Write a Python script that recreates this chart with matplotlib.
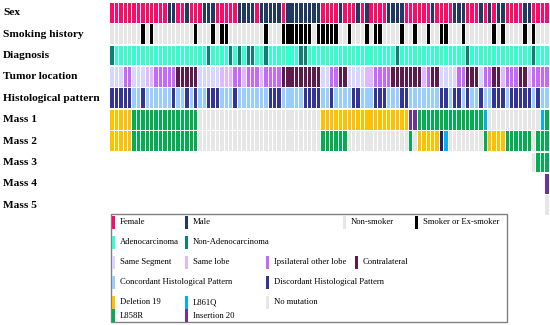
import matplotlib
matplotlib.use('Agg')
import matplotlib.pyplot as plt
from matplotlib.patches import Rectangle
from matplotlib.transforms import blended_transform_factory

# one character per patient (100 columns), '.' = no cell drawn
row_labels = ['Sex', 'Smoking history', 'Diagnosis', 'Tumor location',
              'Histological pattern', 'Mass 1', 'Mass 2', 'Mass 3', 'Mass 4', 'Mass 5']

sex = ("FFFFFFFFFF FFFMMFFMFF FMMMFFFFFM MMMFMMMMMF MMMMMMMMFF "
       "FFMFFFMFMF FFFMMMMFFF FFFMFFFFMM MFFFMFMFMM FFFFMMFFFF")
smoking = ("NNNNNNNSNS NNNNNNNNNS NNNSNSSNNN NNNNNSNNNS SSSSSSNSSS "
           "SSNNSNNNSN SSNNNNSNNS NNSNNSSNNN SNNNNNNSNS NNNNSNSNNN")
diagnosis = ("TAAAAAAAAA AAAAAAAAAA AATAAAATAT ATTAATAAAA AAATTAAAAA "
             "AAAAAAAAAA AAAAATAAAA AAAAAAAAAA ATAAAAAAAA AAAAAATAAA")
location = ("sssiisssll iiiiiccccc ssssslllii liiiliiiic ccccccccss "
            "iiccssssll iiiicccccc cliccssssi icccsiiccl iiiccliiii")
histology = ("DDDDDCCDCC CCCCDCCDCD CCDDDCCCDC CCCCCCDDDC CCCCDDDDCC "
             "DCCCCDDCCC DDDCCCDDCC CCCCCDDCDD CDCCDCCDDD CDDDDDCDCC")
mass1 = ("dddddrrrrr rrrrrrrrrr nnnnnnnnnn nnnnnnnnnn nnnnnnnndd "
         "dddddddddd ddddddddxx rrrrrrrrrr rrrrrqnnnn nnnnnnnnqr")
mass2 = ("dddddrrrrr rrrrrrrrrr nnnnnnnnnn nnnnnnnnnn nnnnnnnnrr "
         "rrrrnnnnnn nnnnnnnnrn dddddoqnnn nnnnnrdddd rrrrrrnrrr")
mass3 = (".......... .......... .......... .......... .......... "
         ".......... .......... .......... .......... ......nrrr")
mass4 = (".......... .......... .......... .......... .......... "
         ".......... .......... .......... .......... .........x")
mass5 = (".......... .......... .......... .......... .......... "
         ".......... .......... .......... .......... .........n")

sex_colors = {'F': '#ff0a66', 'M': '#1f3864'}
smoke_colors = {'N': '#e6e6e6', 'S': '#000000'}
diag_colors = {'A': '#33ffcc', 'T': '#0d8076'}
loc_colors = {'s': '#d6d6ff', 'l': '#dfb8ff', 'i': '#c767ff', 'c': '#5e1a4c'}
hist_colors = {'C': '#99ccff', 'D': '#333399'}
mut_colors = {'d': '#ffc000', 'q': '#00b0f0', 'n': '#e6e6e6', 'r': '#00b050',
              'x': '#7030a0', 'o': '#1a237e'}

rows = [(sex, sex_colors), (smoking, smoke_colors), (diagnosis, diag_colors),
        (location, loc_colors), (histology, hist_colors), (mass1, mut_colors),
        (mass2, mut_colors), (mass3, mut_colors), (mass4, mut_colors), (mass5, mut_colors)]

W, H = 550, 325
fig = plt.figure(figsize=(W / 100, H / 100), dpi=100)

ax = fig.add_axes([110 / W, 1 - 216 / H, 439 / W, 214 / H])
for r, (seq, cmap) in enumerate(rows):
    seq = seq.replace(' ', '')
    xs = [i for i, c in enumerate(seq) if c != '.']
    cols = [cmap[c] for c in seq if c != '.']
    ax.bar(xs, 0.93, bottom=r - 0.465, width=0.78, color=cols, linewidth=0)
ax.set_xlim(-0.5, 99.5)
ax.set_ylim(len(rows) - 0.5, -0.5)
ax.axis('off')

# row labels on the left
trans = blended_transform_factory(fig.transFigure, ax.transData)
for r, lab in enumerate(row_labels):
    ax.text(3 / W, r, lab, transform=trans, ha='left', va='center',
            family='Liberation Serif', fontweight='bold', fontsize=8.2)

# legend drawn in pixel coordinates
lax = fig.add_axes([0, 0, 1, 1])
lax.set_xlim(0, W)
lax.set_ylim(H, 0)
lax.axis('off')
lax.add_patch(Rectangle((111, 214), 396, 108, fill=False, edgecolor='#808080', linewidth=1))

legend_items = [
    ('Female', sex_colors['F'], 111, 222), ('Male', sex_colors['M'], 184, 222),
    ('Non-smoker', smoke_colors['N'], 342, 222), ('Smoker or Ex-smoker', smoke_colors['S'], 414, 222),
    ('Adenocarcinoma', diag_colors['A'], 111, 242), ('Non-Adenocarcinoma', diag_colors['T'], 184, 242),
    ('Same Segment', loc_colors['s'], 111, 262), ('Same lobe', loc_colors['l'], 184, 262),
    ('Ipsilateral other lobe', loc_colors['i'], 265, 262), ('Contralateral', loc_colors['c'], 354, 262),
    ('Concordant Histological Pattern', hist_colors['C'], 111, 282),
    ('Discordant Histological Pattern', hist_colors['D'], 265, 282),
    ('Deletion 19', mut_colors['d'], 111, 302), ('L861Q', mut_colors['q'], 184, 302),
    ('No mutation', mut_colors['n'], 265, 302),
    ('L858R', mut_colors['r'], 111, 315.5), ('Insertion 20', mut_colors['x'], 184, 315.5),
]
for label, color, x, y in legend_items:
    lax.add_patch(Rectangle((x + 0.5, y - 6.5), 3.2, 13, color=color, linewidth=0))
    lax.text(x + 9, y, label, ha='left', va='center', family='Liberation Serif', fontsize=6.2)

fig.savefig('out.png', dpi=100)
